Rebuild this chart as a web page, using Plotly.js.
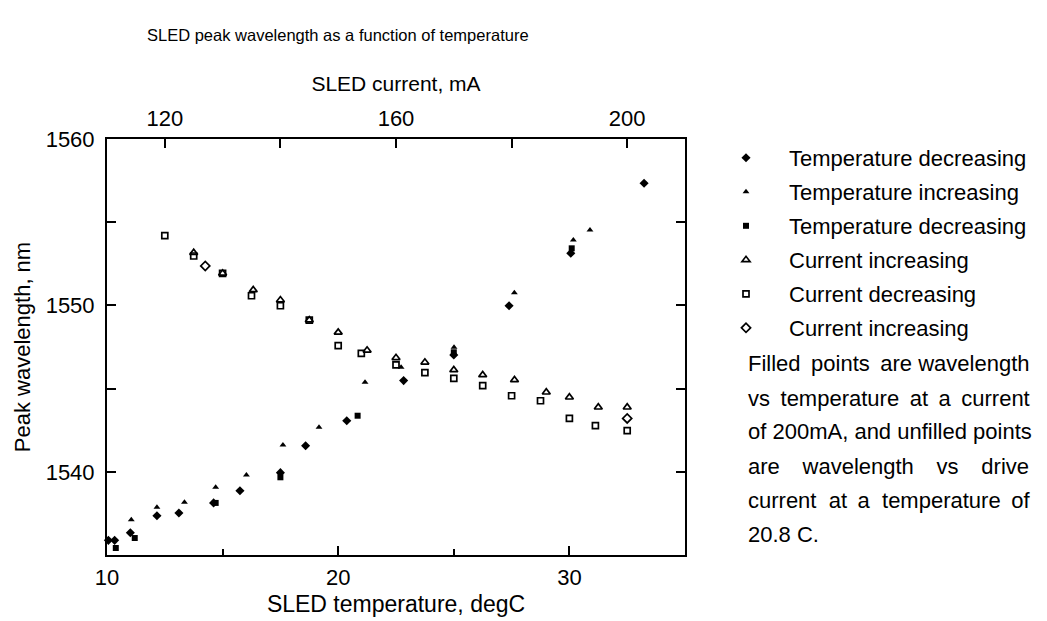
<!DOCTYPE html>
<html>
<head>
<meta charset="utf-8">
<script src="https://cdn.plot.ly/plotly-3.0.1.min.js"></script>
<style>html,body{margin:0;padding:0;background:#fff;}#chart{width:1047px;height:621px;}</style>
</head>
<body>
<div id="chart"></div>
<script>
// Filled points: wavelength vs temperature (degC) at 200 mA
const tDecDiamondT = [10.06, 10.33, 11.01, 12.16, 13.11, 14.61, 15.75, 17.50, 18.59, 20.37, 22.83, 25.00, 27.39, 30.06, 33.23];
const tDecDiamondW = [1535.88, 1535.88, 1536.34, 1537.36, 1537.52, 1538.13, 1538.86, 1539.95, 1541.57, 1543.07, 1545.48, 1547.02, 1549.98, 1553.13, 1557.34];
const tIncTriT = [11.05, 12.16, 13.35, 14.70, 16.03, 17.61, 19.17, 21.16, 22.72, 25.01, 27.62, 30.17, 30.89];
const tIncTriW = [1537.12, 1537.87, 1538.17, 1539.07, 1539.81, 1541.61, 1542.67, 1545.38, 1546.28, 1547.48, 1550.76, 1553.93, 1554.53];
const tDecSqT = [10.38, 11.20, 14.70, 17.50, 20.84, 25.00, 30.10];
const tDecSqW = [1535.42, 1536.02, 1538.13, 1539.67, 1543.37, 1547.18, 1553.43];
// Unfilled points: wavelength vs drive current (mA) at 20.8 C
const cIncTriI = [125, 130, 135.3, 140, 145, 150, 155, 160, 165, 170, 175, 180.5, 186, 190, 195, 200];
const cIncTriW = [1553.17, 1551.93, 1550.93, 1550.32, 1549.12, 1548.38, 1547.30, 1546.85, 1546.58, 1546.12, 1545.82, 1545.52, 1544.78, 1544.48, 1543.88, 1543.88];
const cDecSqI = [120, 125, 130, 135, 140, 145, 150, 154, 160, 165, 170, 175, 180, 185, 190, 194.5, 200];
const cDecSqW = [1554.19, 1552.97, 1551.93, 1550.58, 1549.98, 1549.12, 1547.58, 1547.12, 1546.42, 1545.96, 1545.62, 1545.18, 1544.57, 1544.27, 1543.21, 1542.77, 1542.47];
const cIncDiaI = [127, 200];
const cIncDiaW = [1552.37, 1543.21];

const seriesNames = ["Temperature decreasing", "Temperature increasing", "Temperature decreasing", "Current increasing", "Current decreasing", "Current increasing"];
const S = "\u00a0", T = "\u2009";
const noteLines = [
  "Filled" + S + T + "points" + S + T + "are" + S + "wavelength",
  "vs" + S + T + "temperature" + S + T + "at" + S + T + "a" + S + T + "current",
  "of 200mA, and unfilled points",
  "are" + S + S + S + T + "wavelength" + S + S + S + T + "vs" + S + S + S + T + "drive",
  "current" + S + S + "at" + S + T + "a" + S + S + "temperature" + S + T + "of",
  "20.8 C."
];
const noteY = [0.4615, 0.3774, 0.2957, 0.2139, 0.1322, 0.0481];

const FONT = '"Liberation Sans", Arial, Helvetica, sans-serif';

function mk(x, y, name, symbol, size, xa, lw, gi) {
  return {
    type: 'scatter', mode: 'markers', x: x, y: y, name: name,
    xaxis: xa, yaxis: 'y', cliponaxis: false, legendgroup: 'g' + gi,
    marker: {symbol: symbol, size: size, color: '#000', line: {color: '#000', width: lw}}
  };
}

const traces = [
  mk(tDecDiamondT, tDecDiamondW, seriesNames[0], 'diamond', 7, 'x', 0, 0),
  mk(tIncTriT, tIncTriW, seriesNames[1], 'triangle-up', 6, 'x', 0, 1),
  mk(tDecSqT, tDecSqW, seriesNames[2], 'square', 6, 'x', 0, 2),
  mk(cIncTriI, cIncTriW, seriesNames[3], 'triangle-up-open', 7, 'x2', 1.7, 3),
  mk(cDecSqI, cDecSqW, seriesNames[4], 'square-open', 6, 'x2', 1.7, 4),
  mk(cIncDiaI, cIncDiaW, seriesNames[5], 'diamond-open', 7, 'x2', 1.7, 5)
];

const tickFont = {family: FONT, size: 22, color: '#000'};

const annotations = noteLines.map((t, i) => ({
  text: t, xref: 'paper', yref: 'paper', x: 1.106, y: noteY[i],
  xanchor: 'left', yanchor: 'middle', showarrow: false, align: 'left',
  font: {family: FONT, size: 22, color: '#000'}
}));

const layout = {
  width: 1047, height: 621,
  paper_bgcolor: '#fff', plot_bgcolor: '#fff',
  margin: {l: 107, r: 362, t: 139, b: 66},
  font: {family: FONT, color: '#000'},
  title: {text: 'SLED peak wavelength as a function of temperature',
    font: {family: FONT, size: 16.5, color: '#000'},
    xref: 'container', yref: 'container', x: 147/1047, xanchor: 'left', y: 1 - 35/621, yanchor: 'middle'},
  showlegend: true,
  legend: {xref: 'container', yref: 'container', x: 703/1047, xanchor: 'left', y: 1 - 137/621, yanchor: 'top',
    font: {family: FONT, size: 22, color: '#000'}, itemwidth: 76, tracegroupgap: 2.4, traceorder: 'grouped',
    bgcolor: 'rgba(0,0,0,0)'},
  xaxis: {
    range: [10, 35], dtick: 10, tick0: 10, ticks: 'inside', ticklen: 9, tickwidth: 2, tickcolor: '#000',
    minor: {dtick: 5, ticks: 'inside', ticklen: 6, tickwidth: 2, tickcolor: '#000'},
    showline: true, linewidth: 2, linecolor: '#000', mirror: false, showgrid: false, zeroline: false,
    tickfont: tickFont, ticklabelstandoff: 2,
    title: {text: 'SLED temperature, degC', font: {family: FONT, size: 23, color: '#000'}, standoff: 6}
  },
  xaxis2: {
    overlaying: 'x', side: 'top', anchor: 'y',
    range: [110, 210], dtick: 40, tick0: 120, ticks: 'inside', ticklen: 9, tickwidth: 2, tickcolor: '#000',
    minor: {dtick: 20, tick0: 120, ticks: 'inside', ticklen: 9, tickwidth: 2, tickcolor: '#000'},
    showline: true, linewidth: 2, linecolor: '#000', showgrid: false, zeroline: false,
    tickfont: tickFont, ticklabelstandoff: 2,
    title: {text: 'SLED current, mA', font: {family: FONT, size: 21, color: '#000'}, standoff: 9}
  },
  yaxis: {
    range: [1535, 1560], dtick: 10, tick0: 1540, ticks: 'inside', ticklen: 9, tickwidth: 2, tickcolor: '#000',
    minor: {dtick: 5, ticks: 'inside', ticklen: 9, tickwidth: 2, tickcolor: '#000'},
    showline: true, linewidth: 2, linecolor: '#000', mirror: 'ticks', showgrid: false, zeroline: false,
    tickfont: tickFont, ticklabelstandoff: 6,
    title: {text: 'Peak wavelength, nm', font: {family: FONT, size: 22, color: '#000'}, standoff: 9}
  },
  annotations: annotations
};

Plotly.newPlot('chart', traces, layout, {displayModeBar: false, staticPlot: true});
</script>
</body>
</html>
